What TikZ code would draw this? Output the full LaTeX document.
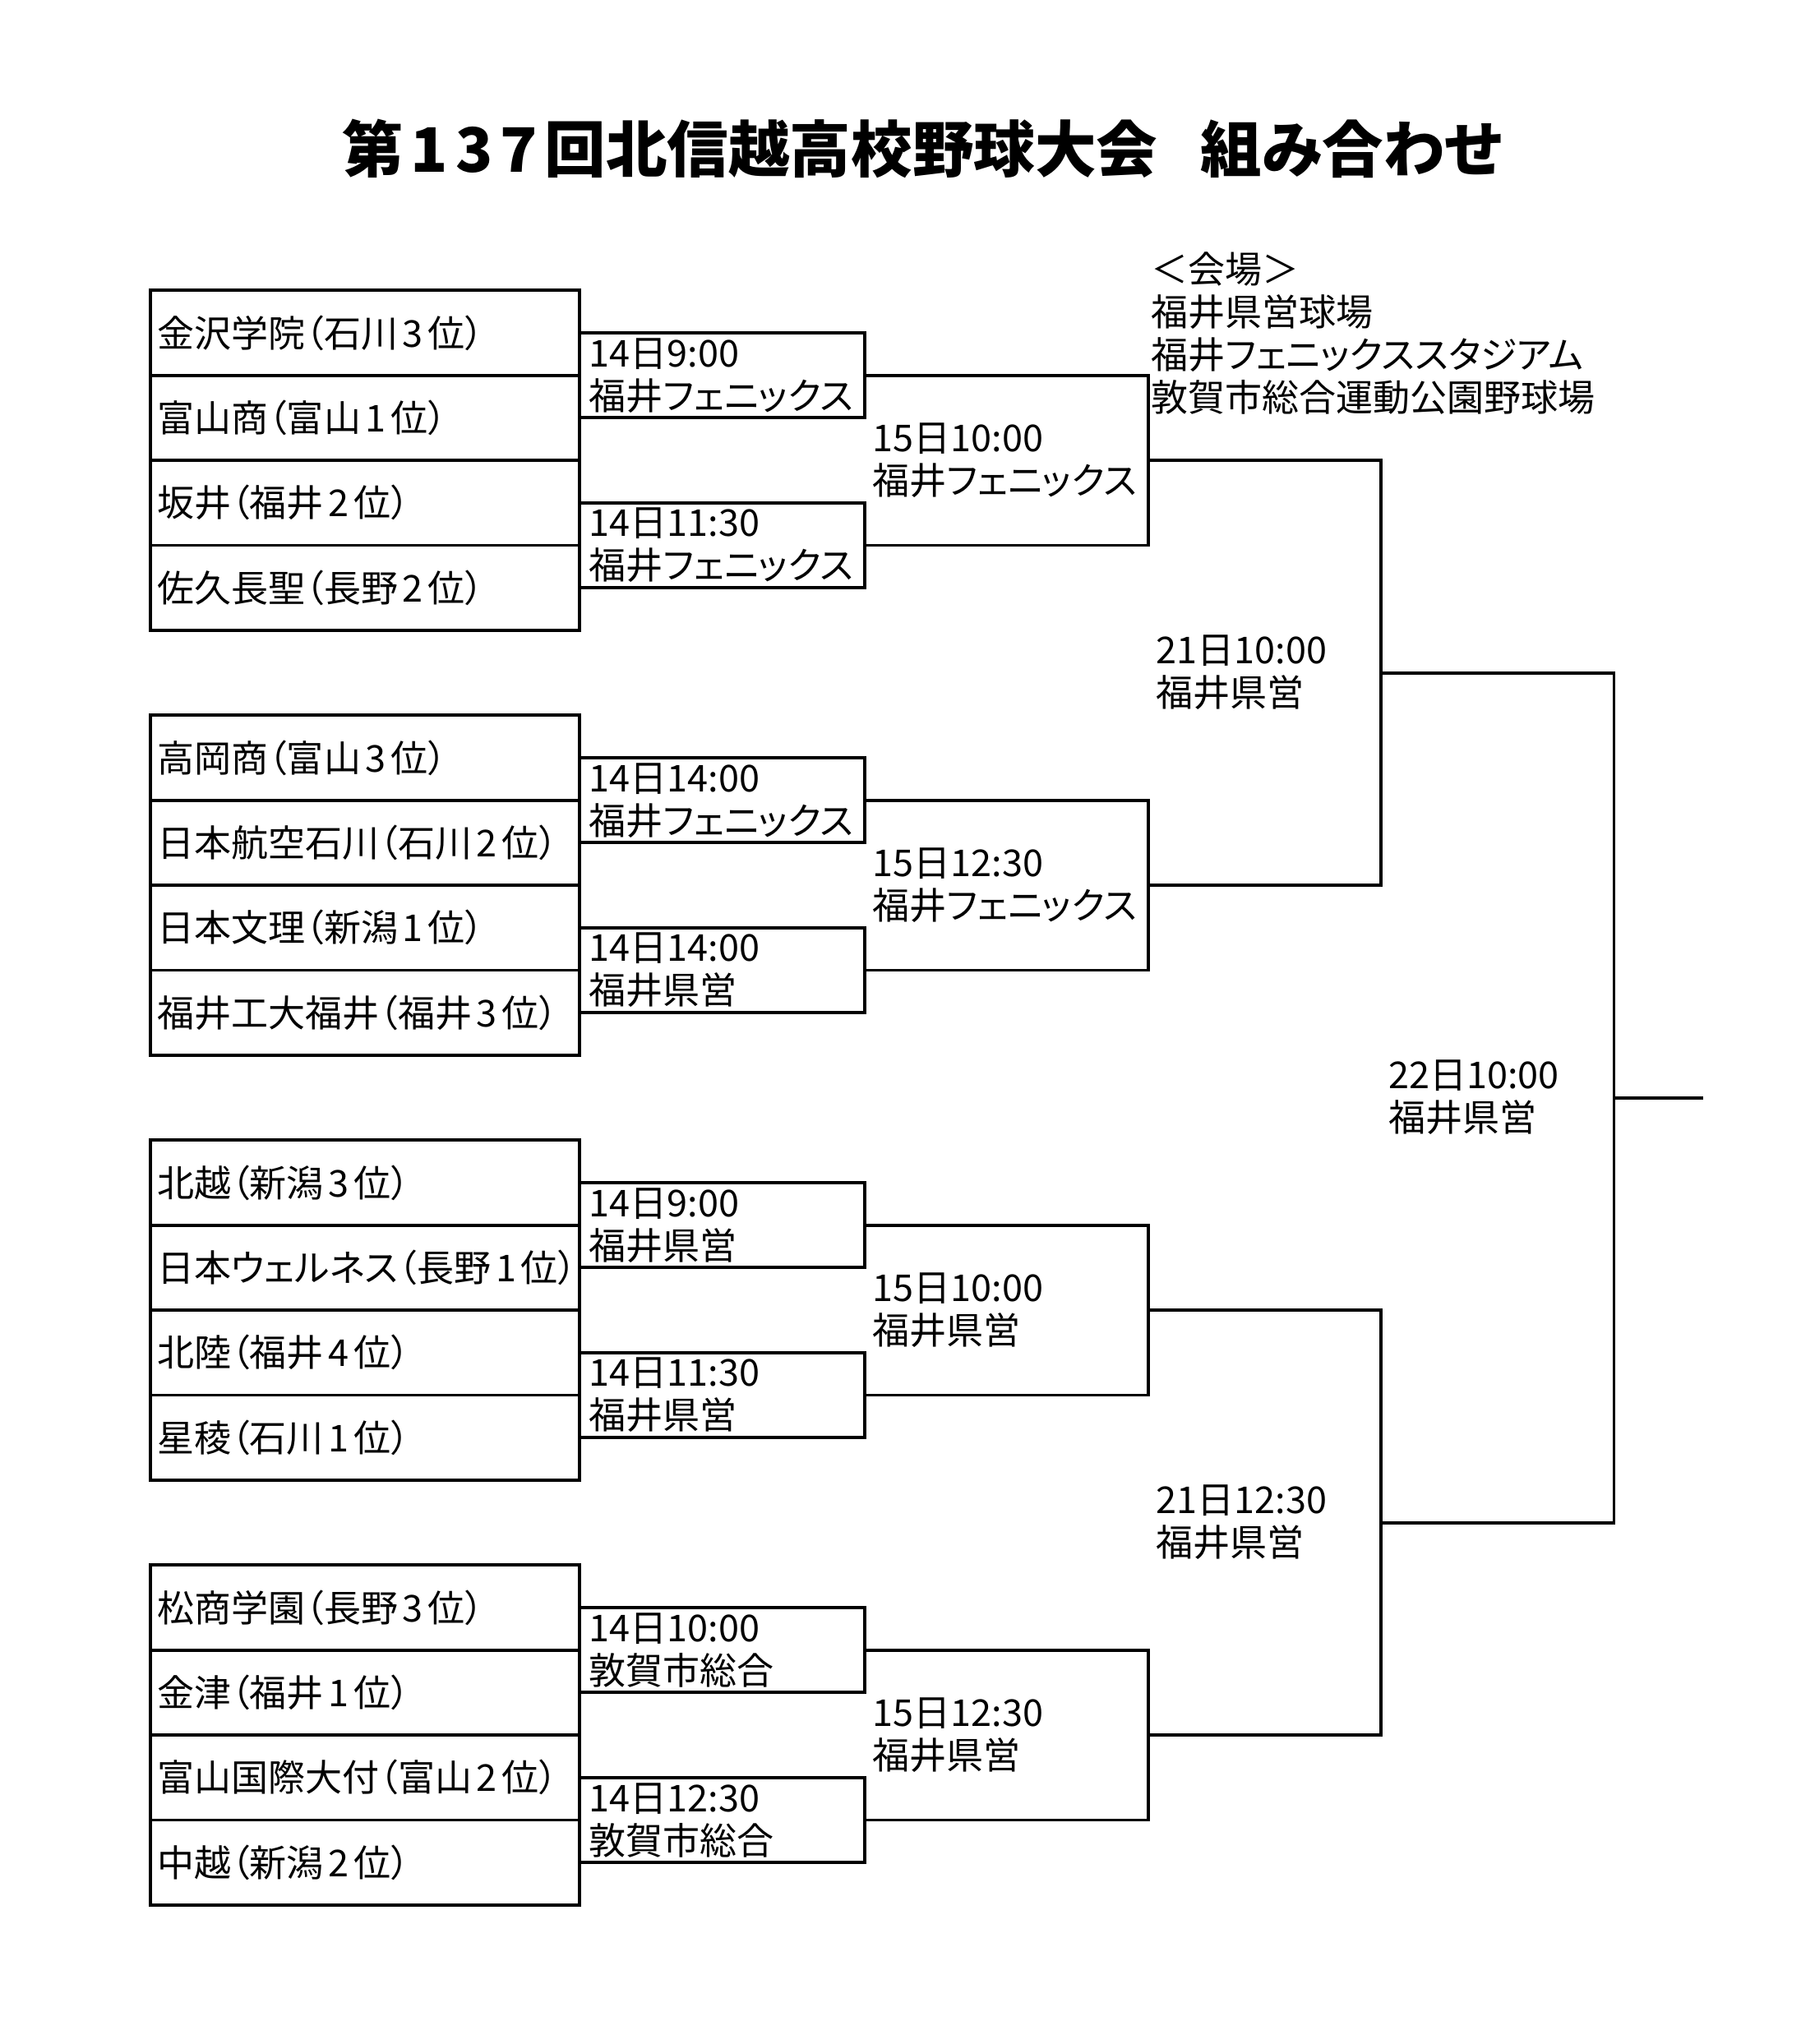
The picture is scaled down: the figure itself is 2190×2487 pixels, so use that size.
\documentclass[tikz,border=0pt]{standalone}
\usepackage{fontspec}
\setmainfont{Noto Sans CJK JP}[RawFeature=+palt]
\usepackage{tikz}
\usetikzlibrary{calc}
\pgfkeys{tikz/myteam/.style={draw, line width=1.1pt, rectangle, anchor=west,
                                 minimum width=5.22cm, minimum height=1.034cm,
                                 inner xsep=0.085cm, text width=5.05cm, align=left,
                                 font=\fontsize{12.8pt}{14.8pt}\selectfont}}
\pgfkeys{tikz/myslot/.style={anchor=west, inner sep=0pt, align=left,
                                 font=\fontsize{12.8pt}{14.8pt}\selectfont}}
\pgfkeys{tikz/myline/.style={line width=1.1pt}}

\begin{document}
\begin{tikzpicture}[x=0.01cm,y=-0.01cm]
\useasboundingbox (0,0) rectangle (2190,2487);
% title
\node[font=\fontsize{21.2pt}{25pt}\selectfont\bfseries] (title) at (1122,181)
    {第\kern.12em 1\kern.12em 3\kern.12em 7\kern.12em 回北信越高校野球大会\kern.7em 組み合わせ};
% venues
\node[myslot, anchor=north west] (venue) at (1400,306)
    {＜会場＞\\福井県営球場\\福井フェニックススタジアム\\敦賀市総合運動公園野球場};
% teams
\foreach \name/\pref/\rk [count=\k from 0] in {金沢学院/石川/3, 富山商/富山/1, 坂井/福井/2, 佐久長聖/長野/2,
        高岡商/富山/3, 日本航空石川/石川/2, 日本文理/新潟/1, 福井工大福井/福井/3,
        北越/新潟/3, 日本ウェルネス/長野/1, 北陸/福井/4, 星稜/石川/1,
        松商学園/長野/3, 金津/福井/1, 富山国際大付/富山/2, 中越/新潟/2} {
    \pgfmathtruncatemacro{\g}{floor(\k/4)}
    \node[myteam] (t\k) at (181,{353.3+103.4*(\k+\g+0.5)})
        {\name（\pref\kern.13em\rk\kern.13em 位）};
}
% first round
\foreach \j/\tm/\pl in {0/14日9:00/福井フェニックス, 1/14日11:30/福井フェニックス,
        2/14日14:00/福井フェニックス, 3/14日14:00/福井県営, 4/14日9:00/福井県営,
        5/14日11:30/福井県営, 6/14日10:00/敦賀市総合, 7/14日12:30/敦賀市総合} {
    \pgfmathtruncatemacro{\a}{2*\j}
    \pgfmathtruncatemacro{\b}{2*\j+1}
    \draw[myline] (t\a.east) -- ++(345,0) |- (t\b.east);
    \coordinate (w\j) at ($(t\a.east)!.5!(t\b.east)+(345,0)$);
    \node[myslot] (m\j) at ($(t\a.east)!.5!(t\b.east)+(9,0)$) {\tm\\\pl};
}
% second round
\foreach \j/\tm/\pl in {0/15日10:00/福井フェニックス, 1/15日12:30/福井フェニックス,
        2/15日10:00/福井県営, 3/15日12:30/福井県営} {
    \pgfmathtruncatemacro{\a}{2*\j}
    \pgfmathtruncatemacro{\b}{2*\j+1}
    \draw[myline] (w\a) -- ++(344.7,0) |- (w\b);
    \coordinate (v\j) at ($(w\a)!.5!(w\b)+(344.7,0)$);
    \node[myslot] (s\j) at ($(w\a)!.5!(w\b)+(9,0)$) {\tm\\\pl};
}
% semifinals
\foreach \j/\tm in {0/21日10:00, 1/21日12:30} {
    \pgfmathtruncatemacro{\a}{2*\j}
    \pgfmathtruncatemacro{\b}{2*\j+1}
    \draw[myline] (v\a) -- ++(282.8,0) |- (v\b);
    \coordinate (u\j) at ($(v\a)!.5!(v\b)+(282.8,0)$);
    \node[myslot] (q\j) at ($(v\a)!.5!(v\b)+(9,0)$) {\tm\\福井県営};
}
% final
\draw[myline] (u0) -- ++(283.8,0) |- (u1);
\coordinate (champ) at ($(u0)!.5!(u1)+(283.8,0)$);
\draw[myline] (champ) -- ++(108.4,0);
\node[myslot] (fin) at ($(u0)!.5!(u1)+(9,0)$) {22日10:00\\福井県営};
\end{tikzpicture}
\end{document}
